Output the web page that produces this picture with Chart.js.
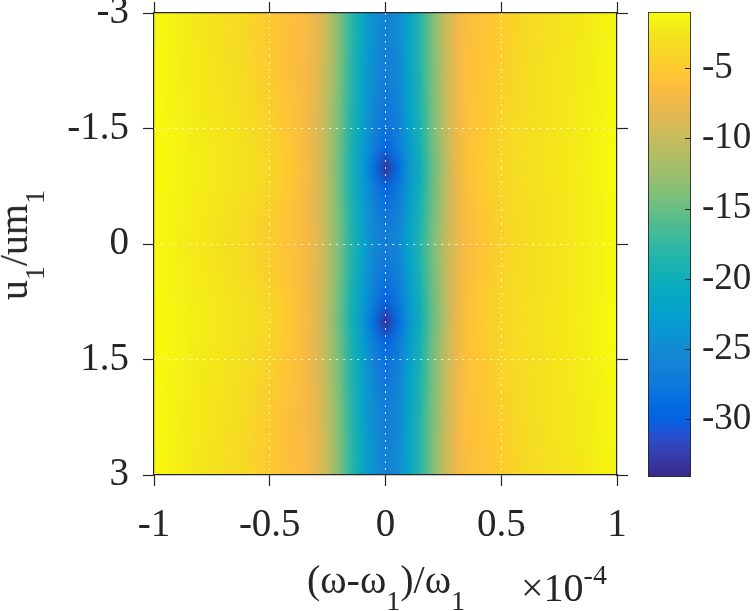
<!DOCTYPE html>
<html>
<head>
<meta charset="utf-8">
<script src="https://cdn.jsdelivr.net/npm/chart.js@4.4.1/dist/chart.umd.min.js"></script>
<style>
  html, body { margin: 0; padding: 0; background: #fff; }
  #wrap { position: relative; width: 752px; height: 611px; overflow: hidden;
          font-family: "Liberation Serif", "Times New Roman", serif; color: #262626; }
  #wrap canvas { position: absolute; left: 0; top: 0; }
  .lbl { position: absolute; white-space: nowrap; font-size: 40px; line-height: 40px; }
  .sub { position: relative; font-size: 28px; top: 17px; }
  .sup { position: relative; font-size: 28px; top: -17px; }
  #ylab { left: 16px; top: 245px; transform: translate(-50%, -50%) rotate(-90deg); }
  #xlab { left: 386px; top: 560px; transform: translateX(-50%); }
  #xexp { left: 521px; top: 568px; }
</style>
</head>
<body>
<div id="wrap">
  <canvas id="main" width="752" height="611"></canvas>
  <canvas id="cbar" width="752" height="611"></canvas>
  <div class="lbl" id="ylab">u<span class="sub">1</span>/um<span class="sub">1</span></div>
  <div class="lbl" id="xlab">(ω-ω<span class="sub">1</span>)/ω<span class="sub">1</span></div>
  <div class="lbl" id="xexp">×10<span class="sup">-4</span></div>
</div>
<script>
// grid of the map: x in units of 1e-4, y = u1/um1 (top row is -3)
const xValues = [-1, -0.95, -0.9, -0.85, -0.8, -0.75, -0.7, -0.65, -0.6, -0.55, -0.5, -0.45, -0.4, -0.35, -0.3, -0.25, -0.2, -0.15, -0.1, -0.05, 0,
                 0.05, 0.1, 0.15, 0.2, 0.25, 0.3, 0.35, 0.4, 0.45, 0.5, 0.55, 0.6, 0.65, 0.7, 0.75, 0.8, 0.85, 0.9, 0.95, 1];
const yValues = [-3, -2.75, -2.5, -2.25, -2, -1.75, -1.5, -1.25, -1, -0.75, -0.5, -0.25, 0,
                 0.25, 0.5, 0.75, 1, 1.25, 1.5, 1.75, 2, 2.25, 2.5, 2.75, 3];

// dB values, one row per yValues entry, one column per xValues entry
const cellValues = [
  [-1.2,-1.4,-1.8,-2.1,-2.4,-2.7,-2.9,-3.2,-3.7,-4.3,-5.0,-5.8,-6.2,-6.6,-7.8,-10.4,-14.0,-18.0,-21.5,-24.5,-26.0, -25.0,-21.8,-18.2,-14.2,-10.6,-7.7,-6.3,-5.9,-5.4,-4.7,-4.1,-3.6,-3.2,-2.9,-2.7,-2.5,-2.2,-1.9,-1.6,-1.3],
  [-1.2,-1.4,-1.8,-2.1,-2.4,-2.7,-3.0,-3.3,-3.8,-4.4,-5.1,-5.9,-6.3,-6.6,-7.7,-10.3,-13.9,-17.9,-21.4,-24.6,-26.2, -25.1,-21.7,-18.1,-14.1,-10.5,-7.6,-6.3,-5.9,-5.4,-4.7,-4.1,-3.6,-3.2,-2.9,-2.7,-2.4,-2.2,-1.9,-1.6,-1.3],
  [-1.1,-1.4,-1.7,-2.0,-2.3,-2.6,-2.9,-3.2,-3.7,-4.3,-5.0,-5.8,-6.3,-6.7,-7.8,-10.4,-14.0,-18.0,-21.6,-24.8,-26.4, -25.3,-21.8,-18.2,-14.2,-10.6,-7.6,-6.2,-5.8,-5.3,-4.6,-4.0,-3.5,-3.1,-2.8,-2.6,-2.4,-2.1,-1.8,-1.5,-1.2],
  [-1.1,-1.3,-1.7,-2.0,-2.3,-2.6,-2.8,-3.1,-3.6,-4.2,-4.9,-5.7,-6.3,-6.8,-7.9,-10.5,-14.1,-18.1,-21.7,-25.0,-26.6, -25.5,-22.0,-18.3,-14.3,-10.7,-7.7,-6.2,-5.7,-5.2,-4.5,-3.9,-3.4,-3.0,-2.8,-2.6,-2.3,-2.1,-1.8,-1.5,-1.2],
  [-1.1,-1.3,-1.6,-1.9,-2.2,-2.5,-2.7,-3.0,-3.4,-4.0,-4.7,-5.5,-6.2,-6.9,-8.1,-10.7,-14.3,-18.3,-21.9,-25.3,-27.0, -25.8,-22.2,-18.5,-14.4,-10.8,-7.8,-6.2,-5.6,-5.0,-4.3,-3.8,-3.3,-3.0,-2.7,-2.5,-2.3,-2.0,-1.8,-1.5,-1.2],
  [-1.0,-1.3,-1.6,-1.9,-2.2,-2.4,-2.6,-2.9,-3.3,-3.8,-4.5,-5.3,-6.0,-6.9,-8.2,-10.9,-14.5,-18.5,-22.1,-25.7,-27.4, -26.2,-22.5,-18.7,-14.6,-10.9,-7.8,-6.2,-5.5,-4.9,-4.2,-3.7,-3.3,-3.0,-2.7,-2.5,-2.2,-2.0,-1.7,-1.4,-1.1],
  [-1.0,-1.2,-1.5,-1.8,-2.1,-2.3,-2.5,-2.8,-3.2,-3.6,-4.2,-5.0,-5.8,-6.9,-8.3,-11.0,-14.6,-18.7,-22.4,-26.1,-28.0, -26.6,-22.8,-18.9,-14.7,-11.0,-7.9,-6.1,-5.4,-4.7,-4.0,-3.5,-3.2,-2.9,-2.7,-2.4,-2.2,-1.9,-1.6,-1.3,-1.1],
  [-1.0,-1.2,-1.5,-1.8,-2.0,-2.2,-2.4,-2.7,-3.0,-3.4,-4.0,-4.7,-5.6,-6.8,-8.3,-11.1,-14.8,-19.0,-22.8,-26.9,-29.6, -27.3,-23.2,-19.3,-15.0,-11.2,-7.9,-6.1,-5.2,-4.5,-3.9,-3.4,-3.1,-2.8,-2.6,-2.4,-2.1,-1.9,-1.6,-1.3,-1.0],
  [-1.0,-1.2,-1.4,-1.7,-2.0,-2.2,-2.4,-2.6,-2.9,-3.3,-3.8,-4.5,-5.4,-6.6,-8.2,-11.2,-15.0,-19.3,-23.4,-28.6,-33.2, -29.0,-24.0,-19.8,-15.4,-11.5,-8.0,-6.1,-5.1,-4.4,-3.8,-3.3,-3.0,-2.8,-2.5,-2.3,-2.1,-1.8,-1.6,-1.3,-1.0],
  [-1.0,-1.2,-1.5,-1.8,-2.0,-2.2,-2.4,-2.7,-3.0,-3.4,-3.9,-4.6,-5.5,-6.7,-8.3,-11.1,-14.9,-19.1,-22.9,-27.1,-29.8, -27.5,-23.4,-19.5,-15.2,-11.4,-8.0,-6.2,-5.2,-4.5,-3.9,-3.4,-3.1,-2.8,-2.6,-2.4,-2.1,-1.9,-1.6,-1.3,-1.0],
  [-1.1,-1.3,-1.6,-1.9,-2.1,-2.3,-2.6,-2.9,-3.2,-3.7,-4.3,-5.0,-5.8,-6.8,-8.3,-11.0,-14.7,-18.8,-22.5,-26.2,-28.0, -26.7,-23.0,-19.1,-15.0,-11.3,-8.1,-6.4,-5.4,-4.7,-4.0,-3.5,-3.2,-2.9,-2.7,-2.5,-2.2,-1.9,-1.7,-1.4,-1.1],
  [-1.1,-1.3,-1.6,-1.9,-2.2,-2.5,-2.8,-3.1,-3.5,-4.0,-4.6,-5.3,-6.0,-6.8,-8.2,-10.9,-14.5,-18.6,-22.2,-25.6,-27.0, -26.0,-22.4,-18.7,-14.7,-11.2,-8.2,-6.6,-5.7,-5.0,-4.2,-3.6,-3.2,-2.9,-2.7,-2.5,-2.2,-1.9,-1.7,-1.4,-1.1],
  [-1.2,-1.4,-1.7,-2.0,-2.3,-2.6,-2.9,-3.2,-3.6,-4.1,-4.7,-5.5,-6.1,-6.9,-8.1,-10.8,-14.4,-18.4,-22.0,-25.3,-26.5, -25.6,-22.1,-18.4,-14.5,-11.0,-8.1,-6.6,-5.8,-5.1,-4.3,-3.7,-3.3,-2.9,-2.7,-2.5,-2.2,-1.9,-1.7,-1.4,-1.2],
  [-1.1,-1.3,-1.6,-1.9,-2.2,-2.5,-2.8,-3.1,-3.5,-4.0,-4.6,-5.3,-6.0,-6.9,-8.2,-10.9,-14.5,-18.6,-22.3,-25.8,-27.2, -26.1,-22.4,-18.6,-14.7,-11.2,-8.2,-6.6,-5.7,-5.0,-4.2,-3.6,-3.2,-2.9,-2.7,-2.5,-2.2,-1.9,-1.7,-1.4,-1.1],
  [-1.1,-1.3,-1.6,-1.9,-2.1,-2.3,-2.6,-2.9,-3.2,-3.7,-4.3,-5.0,-5.8,-6.8,-8.3,-11.0,-14.7,-18.9,-22.6,-26.4,-28.2, -26.8,-23.0,-19.1,-15.0,-11.3,-8.1,-6.4,-5.4,-4.7,-4.0,-3.5,-3.2,-2.9,-2.7,-2.5,-2.2,-1.9,-1.7,-1.4,-1.1],
  [-1.0,-1.2,-1.5,-1.8,-2.0,-2.2,-2.4,-2.7,-3.0,-3.4,-3.9,-4.6,-5.5,-6.7,-8.3,-11.1,-14.9,-19.2,-23.0,-27.2,-30.0, -27.6,-23.5,-19.5,-15.2,-11.4,-8.0,-6.2,-5.2,-4.5,-3.9,-3.4,-3.1,-2.8,-2.6,-2.4,-2.1,-1.9,-1.6,-1.3,-1.0],
  [-1.0,-1.2,-1.4,-1.7,-2.0,-2.2,-2.4,-2.6,-2.9,-3.3,-3.8,-4.5,-5.4,-6.6,-8.2,-11.2,-15.0,-19.4,-23.5,-28.8,-33.4, -29.1,-24.0,-19.8,-15.4,-11.5,-8.0,-6.1,-5.1,-4.4,-3.8,-3.3,-3.0,-2.8,-2.5,-2.3,-2.1,-1.8,-1.6,-1.3,-1.0],
  [-1.0,-1.2,-1.5,-1.8,-2.0,-2.2,-2.4,-2.7,-3.0,-3.4,-4.0,-4.7,-5.6,-6.8,-8.3,-11.1,-14.8,-19.0,-22.8,-27.0,-29.7, -27.4,-23.2,-19.3,-15.0,-11.2,-7.9,-6.1,-5.2,-4.5,-3.9,-3.4,-3.1,-2.8,-2.6,-2.4,-2.1,-1.9,-1.6,-1.3,-1.0],
  [-1.0,-1.2,-1.5,-1.8,-2.1,-2.3,-2.5,-2.8,-3.2,-3.6,-4.2,-5.0,-5.8,-6.9,-8.3,-11.0,-14.6,-18.7,-22.4,-26.2,-28.1, -26.7,-22.8,-18.9,-14.7,-11.0,-7.9,-6.1,-5.4,-4.7,-4.0,-3.5,-3.2,-2.9,-2.7,-2.4,-2.2,-1.9,-1.6,-1.3,-1.1],
  [-1.0,-1.3,-1.6,-1.9,-2.2,-2.4,-2.6,-2.9,-3.3,-3.8,-4.5,-5.3,-6.0,-6.9,-8.2,-10.9,-14.5,-18.5,-22.1,-25.7,-27.5, -26.2,-22.5,-18.7,-14.6,-10.9,-7.8,-6.2,-5.5,-4.9,-4.2,-3.7,-3.3,-3.0,-2.7,-2.5,-2.2,-2.0,-1.7,-1.4,-1.1],
  [-1.1,-1.3,-1.6,-1.9,-2.2,-2.5,-2.7,-3.0,-3.4,-4.0,-4.7,-5.5,-6.2,-6.9,-8.1,-10.7,-14.3,-18.3,-21.9,-25.3,-27.0, -25.8,-22.2,-18.5,-14.4,-10.8,-7.8,-6.2,-5.6,-5.0,-4.3,-3.8,-3.3,-3.0,-2.7,-2.5,-2.3,-2.0,-1.8,-1.5,-1.2],
  [-1.1,-1.3,-1.7,-2.0,-2.3,-2.6,-2.8,-3.1,-3.6,-4.2,-4.9,-5.7,-6.3,-6.8,-7.9,-10.5,-14.1,-18.1,-21.7,-25.0,-26.6, -25.5,-22.0,-18.3,-14.3,-10.7,-7.7,-6.2,-5.7,-5.2,-4.5,-3.9,-3.4,-3.0,-2.8,-2.6,-2.3,-2.1,-1.8,-1.5,-1.2],
  [-1.1,-1.4,-1.7,-2.0,-2.3,-2.6,-2.9,-3.2,-3.7,-4.3,-5.0,-5.8,-6.3,-6.7,-7.8,-10.4,-14.0,-18.0,-21.6,-24.8,-26.4, -25.3,-21.8,-18.2,-14.2,-10.6,-7.6,-6.2,-5.8,-5.3,-4.6,-4.0,-3.5,-3.1,-2.8,-2.6,-2.4,-2.1,-1.8,-1.5,-1.2],
  [-1.2,-1.4,-1.8,-2.1,-2.4,-2.7,-3.0,-3.3,-3.8,-4.4,-5.1,-5.9,-6.3,-6.6,-7.7,-10.3,-13.9,-17.9,-21.4,-24.6,-26.2, -25.1,-21.7,-18.1,-14.1,-10.5,-7.6,-6.3,-5.9,-5.4,-4.7,-4.1,-3.6,-3.2,-2.9,-2.7,-2.4,-2.2,-1.9,-1.6,-1.3],
  [-1.2,-1.4,-1.8,-2.1,-2.4,-2.7,-2.9,-3.2,-3.7,-4.3,-5.0,-5.8,-6.2,-6.6,-7.8,-10.4,-14.0,-18.0,-21.5,-24.5,-26.0, -25.0,-21.8,-18.2,-14.2,-10.6,-7.7,-6.3,-5.9,-5.4,-4.7,-4.1,-3.6,-3.2,-2.9,-2.7,-2.5,-2.2,-1.9,-1.6,-1.3]
];

const xTickStep = 0.5;
const yTickStep = 1.5;
const colorTicks = [-30, -25, -20, -15, -10, -5];
const cbMin = -34.1;
const cbMax = -1.0;

// MATLAB parula(64)
const parula = [
  [0.2081,0.1663,0.5292],[0.2116,0.1898,0.5777],[0.2123,0.2138,0.6270],[0.2081,0.2386,0.6771],
  [0.1959,0.2645,0.7279],[0.1707,0.2919,0.7792],[0.1253,0.3242,0.8303],[0.0591,0.3598,0.8683],
  [0.0117,0.3875,0.8820],[0.0060,0.4086,0.8828],[0.0165,0.4266,0.8786],[0.0329,0.4430,0.8720],
  [0.0498,0.4586,0.8641],[0.0629,0.4737,0.8554],[0.0723,0.4887,0.8467],[0.0779,0.5040,0.8384],
  [0.0793,0.5200,0.8312],[0.0749,0.5375,0.8263],[0.0641,0.5570,0.8240],[0.0488,0.5772,0.8228],
  [0.0343,0.5966,0.8199],[0.0265,0.6137,0.8135],[0.0239,0.6287,0.8038],[0.0231,0.6418,0.7913],
  [0.0228,0.6535,0.7768],[0.0267,0.6642,0.7607],[0.0384,0.6743,0.7436],[0.0590,0.6838,0.7254],
  [0.0843,0.6928,0.7062],[0.1133,0.7015,0.6859],[0.1453,0.7098,0.6646],[0.1801,0.7177,0.6424],
  [0.2178,0.7250,0.6193],[0.2586,0.7317,0.5954],[0.3022,0.7376,0.5712],[0.3482,0.7424,0.5473],
  [0.3953,0.7459,0.5244],[0.4420,0.7481,0.5033],[0.4871,0.7491,0.4840],[0.5300,0.7491,0.4661],
  [0.5709,0.7485,0.4494],[0.6099,0.7473,0.4337],[0.6473,0.7456,0.4188],[0.6834,0.7435,0.4044],
  [0.7184,0.7411,0.3905],[0.7525,0.7384,0.3768],[0.7858,0.7356,0.3633],[0.8185,0.7327,0.3498],
  [0.8507,0.7299,0.3360],[0.8824,0.7274,0.3217],[0.9139,0.7258,0.3063],[0.9450,0.7261,0.2886],
  [0.9739,0.7314,0.2666],[0.9938,0.7455,0.2403],[0.9990,0.7653,0.2164],[0.9955,0.7861,0.1967],
  [0.9880,0.8066,0.1794],[0.9789,0.8271,0.1633],[0.9697,0.8481,0.1475],[0.9626,0.8705,0.1309],
  [0.9589,0.8949,0.1132],[0.9598,0.9218,0.0948],[0.9661,0.9514,0.0755],[0.9763,0.9831,0.0538]
];

function colorFor(v) {
  let t = (v - cbMin) / (cbMax - cbMin);
  t = Math.max(0, Math.min(1, t)) * (parula.length - 1);
  const i = Math.min(Math.floor(t), parula.length - 2);
  const f = t - i;
  return parula[i].map((c, k) => Math.round(255 * (c + (parula[i + 1][k] - c) * f)));
}

const ink = '#262626';
const tickFont = { family: "'Liberation Serif', 'Times New Roman', serif", size: 39 };
const gridWhite = 'rgba(255,255,255,0.85)';
const plainNumber = (v) => String(Number(v.toFixed(2)));

// paints the cells, placed through the chart's x / y scales
const heatmapPlugin = {
  id: 'heatmap',
  beforeDraw(chart) {
    const { ctx, chartArea: a, scales: { x, y } } = chart;
    const cols = xValues.length, rows = yValues.length;
    const off = document.createElement('canvas');
    off.width = cols;
    off.height = rows;
    const octx = off.getContext('2d');
    const img = octx.createImageData(cols, rows);
    for (let j = 0; j < rows; j++) {
      for (let i = 0; i < cols; i++) {
        const c = colorFor(cellValues[j][i]);
        const k = (j * cols + i) * 4;
        img.data[k] = c[0];
        img.data[k + 1] = c[1];
        img.data[k + 2] = c[2];
        img.data[k + 3] = 255;
      }
    }
    octx.putImageData(img, 0, 0);
    const hx = (xValues[1] - xValues[0]) / 2;
    const hy = (yValues[1] - yValues[0]) / 2;
    const left = x.getPixelForValue(xValues[0] - hx);
    const right = x.getPixelForValue(xValues[cols - 1] + hx);
    const top = y.getPixelForValue(yValues[0] - hy);
    const bottom = y.getPixelForValue(yValues[rows - 1] + hy);
    ctx.save();
    ctx.beginPath();
    ctx.rect(a.left, a.top, a.right - a.left, a.bottom - a.top);
    ctx.clip();
    ctx.imageSmoothingEnabled = true;
    ctx.drawImage(off, left, top, right - left, bottom - top);
    ctx.restore();
  }
};

function edgeless(edgeA, edgeB) {
  return (c) => (c.tick && (c.tick.value === edgeA || c.tick.value === edgeB)) ? 'rgba(0,0,0,0)' : gridWhite;
}

function noPad(s) {
  s.paddingTop = 0;
  s.paddingBottom = 0;
  s.paddingLeft = 0;
  s.paddingRight = 0;
}

new Chart(document.getElementById('main'), {
  type: 'scatter',
  data: { datasets: [{ data: [], pointRadius: 0 }] },
  options: {
    responsive: false,
    animation: false,
    devicePixelRatio: 1,
    layout: { padding: 0 },
    plugins: { legend: { display: false }, tooltip: { enabled: false } },
    scales: {
      x: {
        type: 'linear', position: 'bottom', min: -1, max: 1,
        ticks: { stepSize: xTickStep, font: tickFont, color: ink, padding: 16, maxRotation: 0, autoSkip: false, callback: plainNumber },
        grid: { color: edgeless(-1, 1), lineWidth: 1, tickColor: ink, tickLength: 11, tickWidth: 1.2 },
        border: { color: ink, width: 1.2, dash: [2, 5] },
        afterFit(s) { s.height = 136; noPad(s); }
      },
      x2: {
        type: 'linear', position: 'top', min: -1, max: 1,
        ticks: { stepSize: xTickStep, display: false },
        grid: { drawOnChartArea: false, tickColor: ink, tickLength: 11, tickWidth: 1.2 },
        border: { color: ink, width: 1.2 },
        afterFit(s) { s.height = 13; noPad(s); }
      },
      y: {
        type: 'linear', position: 'left', min: -3, max: 3, reverse: true,
        ticks: { stepSize: yTickStep, font: tickFont, color: ink, padding: 14, callback: plainNumber },
        grid: { color: edgeless(-3, 3), lineWidth: 1, tickColor: ink, tickLength: 11, tickWidth: 1.2 },
        border: { color: ink, width: 1.2, dash: [2, 5] },
        afterFit(s) { s.width = 154; noPad(s); }
      },
      y2: {
        type: 'linear', position: 'right', min: -3, max: 3, reverse: true,
        ticks: { stepSize: yTickStep, display: false },
        grid: { drawOnChartArea: false, tickColor: ink, tickLength: 11, tickWidth: 1.2 },
        border: { color: ink, width: 1.2 },
        afterFit(s) { s.width = 135; noPad(s); }
      }
    }
  },
  plugins: [heatmapPlugin]
});

// colour bar: one floating bar from cbMin to cbMax filled with the colormap
const cbTicksPlugin = {
  id: 'cbTicks',
  afterDatasetsDraw(chart) {
    const { ctx, chartArea: a, scales: { y } } = chart;
    ctx.save();
    ctx.strokeStyle = ink;
    ctx.lineWidth = 1;
    colorTicks.forEach(v => {
      const py = Math.round(y.getPixelForValue(v)) + 0.5;
      ctx.beginPath();
      ctx.moveTo(a.right - 6, py);
      ctx.lineTo(a.right, py);
      ctx.stroke();
    });
    ctx.restore();
  }
};

new Chart(document.getElementById('cbar'), {
  type: 'bar',
  data: {
    labels: ['cb'],
    datasets: [{
      data: [[cbMin, cbMax]],
      backgroundColor(c) {
        const a = c.chart.chartArea;
        if (!a) return '#888';
        const g = c.chart.ctx.createLinearGradient(0, a.bottom, 0, a.top);
        parula.forEach((p, i) => {
          g.addColorStop(i / (parula.length - 1), `rgb(${p.map(q => Math.round(q * 255)).join(',')})`);
        });
        return g;
      },
      borderColor: ink,
      borderWidth: 1.2,
      borderSkipped: false,
      barPercentage: 1,
      categoryPercentage: 1
    }]
  },
  options: {
    responsive: false,
    animation: false,
    devicePixelRatio: 1,
    layout: { padding: { left: 648, top: 12, bottom: 134, right: 0 } },
    plugins: { legend: { display: false }, tooltip: { enabled: false } },
    scales: {
      x: { display: false },
      y: {
        position: 'right', min: cbMin, max: cbMax,
        afterBuildTicks(s) { s.ticks = colorTicks.map(v => ({ value: v })); },
        ticks: { font: { family: tickFont.family, size: 37 }, color: ink, padding: 11 },
        grid: { drawOnChartArea: false, drawTicks: false },
        border: { display: false },
        afterFit(s) { s.width = 61; noPad(s); }
      }
    }
  },
  plugins: [cbTicksPlugin]
});
</script>
</body>
</html>
